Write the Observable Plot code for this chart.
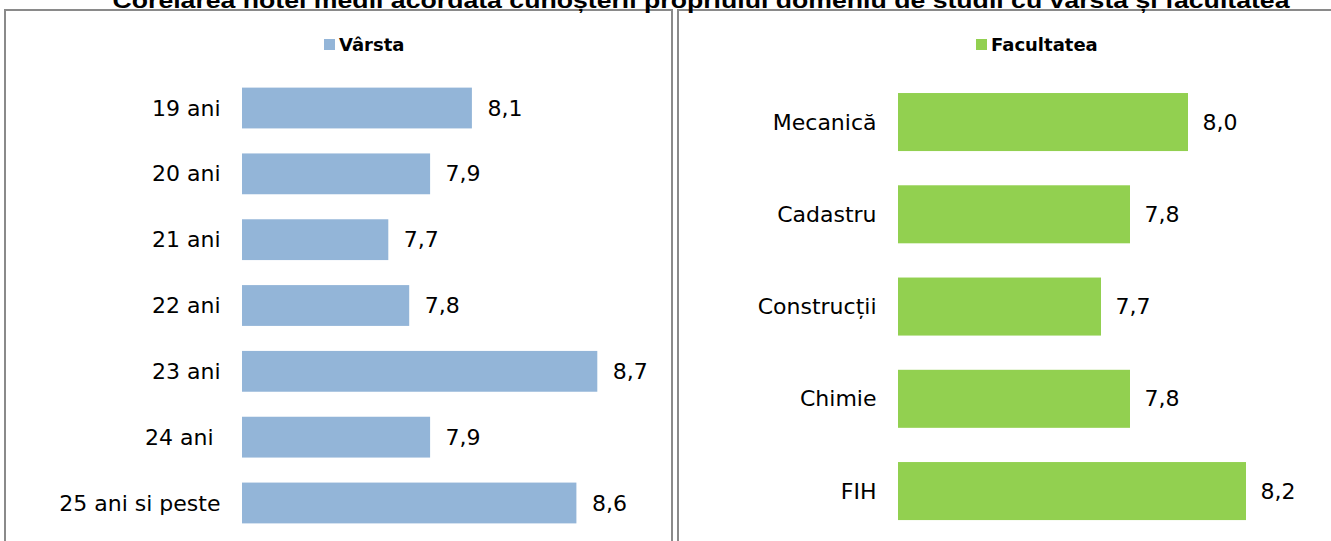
<!DOCTYPE html>
<html>
<head>
<meta charset="utf-8">
<script src="https://cdn.jsdelivr.net/npm/d3@7"></script>
<script src="https://cdn.jsdelivr.net/npm/@observablehq/plot@0.6"></script>
<style>
  body { margin: 0; width: 1331px; height: 541px; overflow: hidden; background: #fff; position: relative; font-family: "DejaVu Sans", sans-serif; }
  .frame { position: absolute; border: 2px solid #8a8a8a; box-sizing: border-box; }
  .chart { position: absolute; top: 0; }
  .chart svg { max-width: none !important; overflow: visible; }
  .legend { position: absolute; font-family: "DejaVu Sans", sans-serif; font-weight: bold; font-size: 18px; color: #000; white-space: nowrap; line-height: 1; }
  .legend .sw { display: inline-block; width: 11px; height: 11px; margin-right: 4px; vertical-align: 1px; }
  #title { position: absolute; left: 0; top: 0; }
</style>
</head>
<body>
<div class="frame" style="left:4px; top:9px; width:669px; height:560px;"></div>
<div class="frame" style="left:677px; top:9px; width:700px; height:560px;"></div>
<svg id="title" width="1331" height="20"></svg>
<div class="chart" id="left" style="left:0px;"></div>
<div class="chart" id="right" style="left:675px;"></div>
<div class="legend" id="legLeft" style="left:324px; top:36px;"></div>
<div class="legend" id="legRight" style="left:976px; top:36px;"></div>
<script>
// ---- data ----
const titleText = "Corelarea notei medii acordată cunoșterii propriului domeniu de studii cu vârsta și facultatea";
const ageLegend = "Vârsta";
const ageCategories = ["19 ani", "20 ani", "21 ani", "22 ani", "23 ani", "24 ani\u00a0", "25 ani si peste"];
const ageValues = [8.1, 7.9, 7.7, 7.8, 8.7, 7.9, 8.6];
const facultyLegend = "Facultatea";
const facultyCategories = ["Mecanică", "Cadastru", "Construcții", "Chimie", "FIH"];
const facultyValues = [8.0, 7.8, 7.7, 7.8, 8.2];
const xBaseline = 7;
const ageColor = "#93B5D8";
const facultyColor = "#92D050";

const fmt = v => v.toFixed(1).replace(".", ",");

// ---- title ----
d3.select("#title").append("text")
  .attr("x", 701).attr("y", 8)
  .attr("text-anchor", "middle")
  .attr("textLength", 1177).attr("lengthAdjust", "spacingAndGlyphs")
  .attr("font-family", "Liberation Sans, Arial, sans-serif")
  .attr("font-weight", "bold").attr("font-size", 22)
  .text(titleText);

function panel(categories, values, color, opts) {
  const data = categories.map((c, i) => ({c, v: values[i]}));
  return Plot.plot({
    width: opts.width,
    height: 541,
    marginLeft: opts.marginLeft,
    marginRight: opts.marginRight,
    marginTop: 0,
    marginBottom: 0,
    style: {background: "transparent", fontFamily: "DejaVu Sans, sans-serif", fontSize: "22px", overflow: "visible"},
    x: {domain: opts.xDomain, axis: null},
    y: {domain: categories, range: opts.yRange, padding: opts.padding, round: false, axis: null},
    marks: [
      Plot.barX(data, {x1: xBaseline, x2: "v", y: "c", fill: color}),
      Plot.text(data, {x: "v", y: "c", text: d => fmt(d.v), textAnchor: "start", dx: opts.valueDx, fill: "#000", fontSize: 22}),
      Plot.text(data, {y: "c", text: "c", frameAnchor: "left", textAnchor: "end", dx: -22, fill: "#000", fontSize: 22})
    ]
  });
}

document.getElementById("left").appendChild(panel(ageCategories, ageValues, ageColor, {
  width: 671, marginLeft: 242, marginRight: 11, xDomain: [7, 9],
  yRange: [62.6, 548.4], padding: 0.38, valueDx: 15
}));
document.getElementById("right").appendChild(panel(facultyCategories, facultyValues, facultyColor, {
  width: 656, marginLeft: 223, marginRight: 27, xDomain: [7, 8.4],
  yRange: [58.8, 554.3], padding: 0.371, valueDx: 14
}));

document.getElementById("legLeft").innerHTML = `<span class="sw" style="background:${ageColor}"></span>${ageLegend}`;
document.getElementById("legRight").innerHTML = `<span class="sw" style="background:${facultyColor}"></span>${facultyLegend}`;
</script>
</body>
</html>
